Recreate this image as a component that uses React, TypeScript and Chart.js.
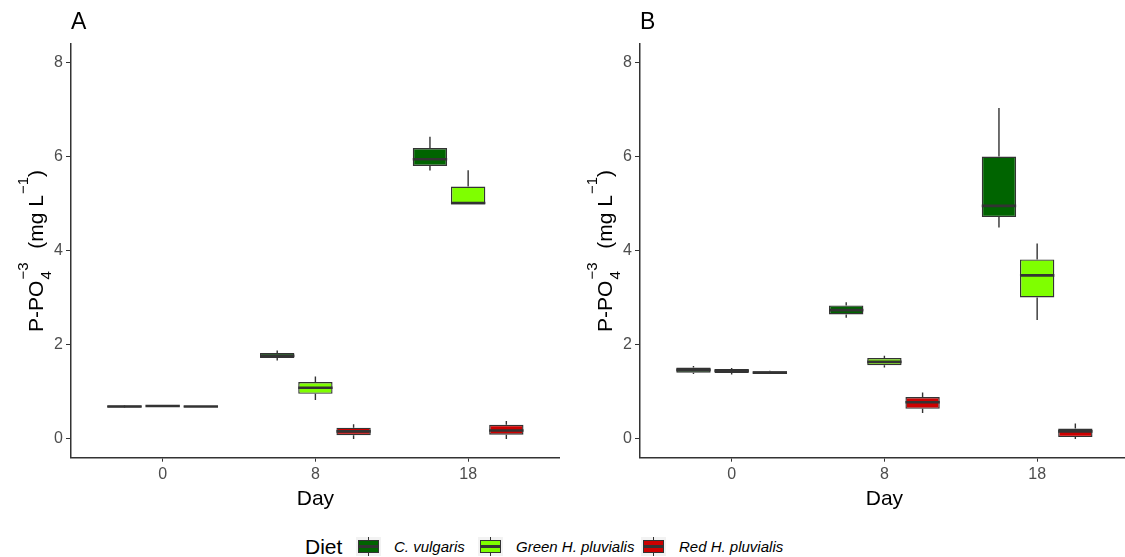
import React, { useEffect, useRef } from 'react';
import { Chart, registerables } from 'chart.js';

Chart.register(...registerables);

const dayLabels = ['0', '8', '18'];
const dietNames = ['C. vulgaris', 'Green H. pluvialis', 'Red H. pluvialis'];
const dietColors = ['#006400', '#7FFF00', '#CD0000'];
const yTicks = [0, 2, 4, 6, 8];

// Each row: one day (0, 8, 18) -> [min, q1, median, q3, max]
const aCVulgaris = [
  [0.66, 0.67, 0.69, 0.71, 0.72],
  [1.67, 1.72, 1.77, 1.83, 1.88],
  [5.71, 5.81, 5.95, 6.19, 6.43],
];
const aGreen = [
  [0.69, 0.69, 0.7, 0.71, 0.72],
  [0.83, 0.96, 1.09, 1.21, 1.33],
  [4.99, 4.99, 5.02, 5.37, 5.72],
];
const aRed = [
  [0.68, 0.68, 0.69, 0.7, 0.7],
  [0.0, 0.08, 0.16, 0.24, 0.31],
  [0.0, 0.09, 0.18, 0.3, 0.38],
];
const bCVulgaris = [
  [1.38, 1.41, 1.47, 1.52, 1.55],
  [2.58, 2.65, 2.74, 2.84, 2.91],
  [4.5, 4.72, 4.96, 6.01, 7.04],
];
const bGreen = [
  [1.37, 1.4, 1.45, 1.49, 1.51],
  [1.52, 1.57, 1.64, 1.72, 1.77],
  [2.53, 3.01, 3.48, 3.82, 4.16],
];
const bRed = [
  [1.38, 1.39, 1.41, 1.44, 1.45],
  [0.55, 0.64, 0.78, 0.89, 0.99],
  [0.0, 0.04, 0.16, 0.22, 0.33],
];

const FONT = '"Liberation Sans", Arial, Helvetica, sans-serif';
const CW = 565;
const CH = 520;

function makeChart(canvas: HTMLCanvasElement, stats: number[][][], letter: string) {
  const boxPlugin = {
    id: 'boxExtras' + letter,
    afterDatasetsDraw(chart: any) {
      const ctx = chart.ctx;
      const ys = chart.scales.y;
      ctx.save();
      chart.data.datasets.forEach((_ds: any, i: number) => {
        const meta = chart.getDatasetMeta(i);
        meta.data.forEach((bar: any, j: number) => {
          const st = stats[i][j];
          const p = bar.getProps(['x', 'width'], true);
          ctx.strokeStyle = '#333333';
          ctx.lineWidth = 1.4;
          ctx.beginPath();
          ctx.moveTo(p.x, ys.getPixelForValue(st[4]));
          ctx.lineTo(p.x, ys.getPixelForValue(st[3]));
          ctx.moveTo(p.x, ys.getPixelForValue(st[1]));
          ctx.lineTo(p.x, ys.getPixelForValue(st[0]));
          ctx.stroke();
          ctx.lineWidth = 2.6;
          ctx.beginPath();
          const ym = ys.getPixelForValue(st[2]);
          ctx.moveTo(p.x - p.width / 2, ym);
          ctx.lineTo(p.x + p.width / 2, ym);
          ctx.stroke();
        });
      });
      ctx.restore();
    },
    afterDraw(chart: any) {
      const ctx = chart.ctx;
      const ca = chart.chartArea;
      ctx.save();
      // panel letter
      ctx.fillStyle = '#000000';
      ctx.font = `23px ${FONT}`;
      ctx.textAlign = 'left';
      ctx.textBaseline = 'alphabetic';
      ctx.fillText(letter, 71, 29);
      // x title
      ctx.font = `21px ${FONT}`;
      ctx.textAlign = 'center';
      ctx.fillText('Day', (ca.left + ca.right) / 2, 505);
      // y title with sub/superscripts
      const cx = 43;
      const cy = (ca.top + ca.bottom) / 2;
      const big = `21px ${FONT}`;
      const small = `15px ${FONT}`;
      ctx.textAlign = 'left';
      ctx.font = big;
      const w1 = ctx.measureText('P-PO').width;
      const w3 = ctx.measureText('  (mg L').width;
      const w5 = ctx.measureText(')').width;
      ctx.font = small;
      const w2 = Math.max(ctx.measureText('4').width, ctx.measureText('\u22123').width);
      const w4 = ctx.measureText('\u22121').width;
      const total = w1 + w2 + w3 + w4 + w5 + 4;
      ctx.translate(cx, cy);
      ctx.rotate(-Math.PI / 2);
      let u = -total / 2;
      ctx.font = big;
      ctx.fillText('P-PO', u, 0);
      u += w1;
      ctx.font = small;
      ctx.fillText('4', u + 1, 8);
      ctx.fillText('\u22123', u + 1, -15);
      u += w2 + 3;
      ctx.font = big;
      ctx.fillText('  (mg L', u, 0);
      u += w3;
      ctx.font = small;
      ctx.fillText('\u22121', u + 1, -15);
      u += w4 + 1;
      ctx.font = big;
      ctx.fillText(')', u, 0);
      ctx.restore();
    },
  };

  return new Chart(canvas, {
    type: 'bar',
    data: {
      datasets: stats.map((s, i) => ({
        label: dietNames[i],
        data: s.map((v, j) => ({ x: j + 1, y: [v[1], v[3]] })),
        backgroundColor: dietColors[i],
        borderColor: '#333333',
        borderWidth: 1.4,
        borderSkipped: false,
        categoryPercentage: 0.75,
        barPercentage: 0.9,
      })),
    } as any,
    options: {
      animation: false,
      responsive: false,
      devicePixelRatio: 1,
      layout: { padding: { left: 0, right: 5.2, top: 44.2, bottom: 0 } },
      plugins: { legend: { display: false }, tooltip: { enabled: false } },
      scales: {
        x: {
          type: 'linear',
          min: 0.4,
          max: 3.6,
          offset: false,
          afterBuildTicks: (scale: any) => {
            scale.ticks = dayLabels.map((_l, i) => ({ value: i + 1 }));
          },
          afterFit: (scale: any) => {
            scale.height = CH - 457.7;
          },
          ticks: {
            callback: (val: any) => dayLabels[Math.round(val) - 1] ?? '',
            color: '#4D4D4D',
            font: { family: FONT, size: 16 },
            padding: 3,
            maxRotation: 0,
            autoSkip: false,
          },
          grid: {
            display: true,
            drawOnChartArea: false,
            drawTicks: true,
            tickLength: 4,
            color: '#333333',
            lineWidth: 1,
            offset: false,
          },
          border: { display: true, color: '#333333', width: 1.5 },
        },
        y: {
          type: 'linear',
          min: -0.4,
          max: 8.4,
          afterBuildTicks: (scale: any) => {
            scale.ticks = yTicks.map((v) => ({ value: v }));
          },
          afterFit: (scale: any) => {
            scale.width = 71;
          },
          ticks: {
            color: '#4D4D4D',
            font: { family: FONT, size: 16 },
            padding: 3,
          },
          grid: {
            display: true,
            drawOnChartArea: false,
            drawTicks: true,
            tickLength: 5,
            color: '#333333',
            lineWidth: 1,
          },
          border: { display: true, color: '#333333', width: 1.5 },
        },
      },
    } as any,
    plugins: [boxPlugin],
  });
}

function Panel({ stats, letter, left }: { stats: number[][][]; letter: string; left: number }) {
  const ref = useRef<HTMLCanvasElement | null>(null);
  useEffect(() => {
    if (!ref.current) return;
    const chart = makeChart(ref.current, stats, letter);
    return () => chart.destroy();
  }, []);
  return (
    <canvas
      ref={ref}
      width={CW}
      height={CH}
      style={{ position: 'absolute', left, top: 0, width: CW, height: CH }}
    />
  );
}

function LegendKey({ color, left }: { color: string; left: number }) {
  return (
    <div style={{ position: 'absolute', left, top: 537, width: 25, height: 19, background: '#F2F2F2' }}>
      <div style={{ position: 'absolute', left: 12, top: 0, width: 1.3, height: 19, background: '#333333' }} />
      <div
        style={{
          position: 'absolute',
          left: 2,
          top: 3,
          width: 19,
          height: 11,
          background: color,
          border: '1px solid #333333',
        }}
      />
      <div style={{ position: 'absolute', left: 3, top: 8.3, width: 19, height: 2.4, background: '#333333' }} />
    </div>
  );
}

const textStyle = (left: number, size: number, italic: boolean): React.CSSProperties => ({
  position: 'absolute',
  left,
  top: 546,
  transform: 'translateY(-50%)',
  fontFamily: FONT,
  fontSize: size,
  fontStyle: italic ? 'italic' : 'normal',
  lineHeight: 1,
  color: '#000000',
  whiteSpace: 'nowrap',
});

export default function App() {
  return (
    <div
      style={{
        position: 'fixed',
        left: 0,
        top: 0,
        width: 1125,
        height: 557,
        overflow: 'hidden',
        background: '#FFFFFF',
      }}
    >
      <Panel stats={[aCVulgaris, aGreen, aRed]} letter="A" left={0} />
      <Panel stats={[bCVulgaris, bGreen, bRed]} letter="B" left={568.5} />
      <span style={textStyle(305, 21, false)}>Diet</span>
      <LegendKey color={dietColors[0]} left={356} />
      <span style={textStyle(394, 15, true)}>{dietNames[0]}</span>
      <LegendKey color={dietColors[1]} left={478} />
      <span style={textStyle(516, 15, true)}>{dietNames[1]}</span>
      <LegendKey color={dietColors[2]} left={641} />
      <span style={textStyle(679, 15, true)}>{dietNames[2]}</span>
    </div>
  );
}
